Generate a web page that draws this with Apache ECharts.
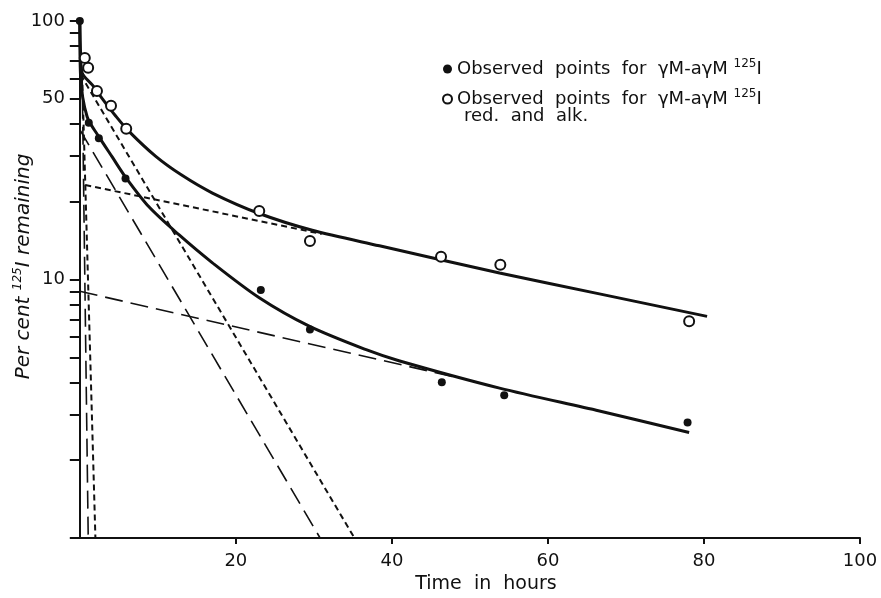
<!DOCTYPE html>
<html>
<head>
<meta charset="utf-8">
<script src="https://cdn.jsdelivr.net/npm/echarts@6.0.0/dist/echarts.min.js"></script>
<style>
html, body { margin: 0; padding: 0; background: #fff; }
#main { width: 881px; height: 598px; }
</style>
</head>
<body>
<div id="main"></div>
<script>
// observed points, [hours, per cent remaining]
var filledPoints = [[0, 100], [1.15, 40.4], [2.44, 35.2], [5.86, 24.6], [23.2, 9.1], [29.5, 6.4], [46.4, 4.0], [54.4, 3.57], [77.9, 2.8]];
var openPoints = [[0.64, 72], [1.07, 66], [2.2, 53.6], [4.0, 47], [5.95, 38.3], [23, 18.4], [29.5, 14.1], [46.3, 12.25], [53.9, 11.4], [78.1, 6.9]];

// fitted curves
var upperCurve = [[0, 100], [0.1, 75], [0.3, 63], [1.6, 56.6], [2.9, 50.0], [4.6, 42.9], [6.3, 37.4], [9.7, 30.0], [13, 25.4], [17, 21.6], [23, 18.0], [29.8, 15.5], [38.4, 13.5], [53.8, 10.6], [66.6, 8.8], [80.4, 7.2]];
var lowerCurve = [[0, 100], [0.1, 61], [0.94, 42.6], [2.44, 35.7], [4.15, 29.8], [5.86, 24.9], [8.86, 19.1], [12.7, 14.9], [17, 11.6], [23, 8.5], [29.4, 6.6], [36.7, 5.35], [40.9, 4.85], [53.8, 3.8], [66.6, 3.1], [78.1, 2.56]];

// components (straight on the log scale)
var upperSlow = [[0.7, 23.2], [31, 15.0]];
var upperFast = [[0.1, 62], [35.2, 1.0]];
var upperFastest = [[0.3, 62], [2.0, 1.0]];
var lowerSlow = [[0, 9.0], [48, 4.2]];
var lowerFast = [[0, 38], [30.8, 1.0]];
var lowerFastest = [[0.3, 62], [1.08, 1.0]];

var xTicks = [20, 40, 60, 80, 100];
var yTicks = [1, 2, 3, 4, 5, 6, 7, 8, 9, 10, 20, 30, 40, 50, 60, 70, 80, 90, 100];
var yLabels = [10, 50, 100];

var font = 'DejaVu Sans';
var myChart = echarts.init(document.getElementById('main'));

function compLine(data, dash, width) {
    return {
        type: 'line',
        data: data,
        showSymbol: false,
        symbol: 'none',
        silent: true,
        z: 2,
        lineStyle: { color: '#111', width: width, type: dash }
    };
}

var option = {
    animation: false,
    backgroundColor: '#fff',
    grid: { left: 72, right: 21, top: 21, bottom: 60, containLabel: false, outerBoundsMode: 'none' },
    legend: {
        data: ['filled', 'open'],
        orient: 'vertical',
        left: 437,
        top: 53,
        itemWidth: 9,
        itemHeight: 9,
        itemGap: 10,
        formatter: function () {
            return '{n|Observed  points  for  γM-aγM }{s|125}{n|I}';
        },
        textStyle: {
            color: '#111',
            fontFamily: font,
            fontSize: 18,
            rich: {
                n: { fontSize: 18, lineHeight: 22, fontFamily: font, color: '#111' },
                s: { fontSize: 12, lineHeight: 22, verticalAlign: 'top', fontFamily: font, color: '#111' }
            }
        }
    },
    graphic: [{
        type: 'text',
        left: 464,
        top: 107,
        style: { text: 'red.  and  alk.', fontFamily: font, fontSize: 18, fill: '#111' }
    }],
    xAxis: {
        type: 'value',
        min: -1,
        max: 100,
        name: 'Time  in  hours',
        nameLocation: 'middle',
        nameGap: 35,
        nameTextStyle: { fontFamily: font, fontSize: 19, color: '#111', padding: [0, 0, 0, 40] },
        axisLine: { lineStyle: { color: '#111', width: 2 } },
        axisTick: { show: true, length: 6, customValues: xTicks, lineStyle: { color: '#111', width: 2 } },
        axisLabel: { customValues: xTicks, margin: 14, fontFamily: font, fontSize: 18, color: '#111' },
        splitLine: { show: false }
    },
    yAxis: {
        type: 'log',
        logBase: 10,
        min: 1,
        max: 100,
        name: '{n|Per cent }{s|125}{n|I remaining}',
        nameLocation: 'middle',
        nameRotate: 90,
        nameGap: 36,
        nameMoveOverlap: false,
        nameTextStyle: {
            padding: [0, 0, 0, 26],
            rich: {
                n: { fontSize: 20, lineHeight: 24, fontStyle: 'italic', fontFamily: font, color: '#111' },
                s: { fontSize: 12, lineHeight: 24, verticalAlign: 'top', fontStyle: 'italic', fontFamily: font, color: '#111' }
            }
        },
        axisLine: { onZero: true, lineStyle: { color: '#111', width: 2 } },
        axisTick: { show: true, length: 10, customValues: yTicks, lineStyle: { color: '#111', width: 2 } },
        axisLabel: { customValues: yLabels, margin: 7, fontFamily: font, fontSize: 18, color: '#111' },
        minorTick: { show: false },
        splitLine: { show: false }
    },
    series: [
        compLine(upperSlow, [6, 4], 2),
        compLine(upperFast, [6, 4], 2),
        compLine(upperFastest, [6, 4], 2),
        compLine(lowerSlow, [18, 8], 1.6),
        compLine(lowerFast, [18, 8], 1.6),
        compLine(lowerFastest, [18, 8], 1.6),
        {
            type: 'line',
            data: upperCurve,
            showSymbol: false,
            symbol: 'none',
            smooth: 0.3,
            z: 3,
            lineStyle: { color: '#111', width: 3 }
        },
        {
            type: 'line',
            data: lowerCurve,
            showSymbol: false,
            symbol: 'none',
            smooth: 0.3,
            z: 3,
            lineStyle: { color: '#111', width: 3 }
        },
        {
            name: 'filled',
            type: 'scatter',
            data: filledPoints,
            symbol: 'circle',
            symbolSize: 8,
            z: 5,
            itemStyle: { color: '#111', opacity: 1 }
        },
        {
            name: 'open',
            type: 'scatter',
            data: openPoints,
            symbol: 'emptyCircle',
            symbolSize: 10,
            z: 5,
            itemStyle: { color: '#111', borderWidth: 2, opacity: 1 }
        }
    ]
};

myChart.setOption(option);
</script>
</body>
</html>
